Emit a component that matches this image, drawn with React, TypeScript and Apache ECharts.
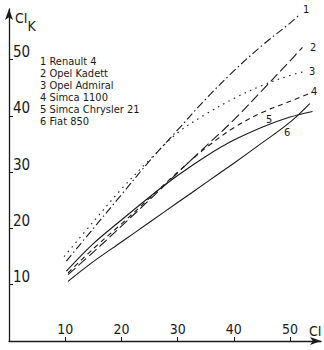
import React, { useEffect, useRef } from "react";
import * as echarts from "echarts";

const carNames = ["Renault 4", "Opel Kadett", "Opel Admiral", "Simca 1100", "Simca Chrysler 21", "Fiat 850"];
const tickValues = [10, 20, 30, 40, 50];

const x1 = [10.2, 15, 20, 25, 30, 35, 40, 45, 50, 51.8];
const y1 = [14.2, 20, 26, 32, 37.5, 43, 48, 52.5, 56.5, 58.1];
const x2 = [10.5, 15, 20, 25, 30, 35, 40, 45, 50, 52.2];
const y2 = [11.8, 15.8, 20.4, 25.1, 29.9, 34.6, 39.3, 44.5, 49.8, 52.2];
const x3 = [9.8, 15, 20, 25, 30, 35, 40, 45, 50, 52.6];
const y3 = [15, 21.2, 27, 32.2, 37, 40.3, 43.1, 45.4, 47.2, 47.9];
const x4 = [10.5, 15, 20, 25, 30, 35, 40, 45, 50, 54];
const y4 = [12.1, 16.4, 20.8, 25.4, 30, 34.3, 37.9, 40.6, 42.6, 44.2];
const x5 = [10.2, 15, 20, 25, 30, 35, 40, 45, 50, 54];
const y5 = [12.4, 17.3, 21.5, 25.6, 29.4, 32.8, 35.7, 38, 39.8, 40.8];
const x6 = [10.5, 15, 20, 25, 30, 35, 40, 45, 50, 53.5];
const y6 = [10.6, 14.1, 17.6, 21.1, 24.6, 28.1, 31.6, 35.2, 38.9, 42.2];

const seriesX = [x1, x2, x3, x4, x5, x6];
const seriesY = [y1, y2, y3, y4, y5, y6];
const dashTypes: any[] = [[8, 3, 1.5, 3], [10, 4], [1.5, 4.5], [5, 4], "solid", "solid"];

const FONT = "'DejaVu Sans Condensed', 'Liberation Sans Narrow', 'Liberation Sans', sans-serif";
const INK = "#1a1a1a";

export default function App() {
  const ref = useRef<HTMLDivElement>(null);
  useEffect(() => {
    if (!ref.current) return;
    const chart = echarts.init(ref.current, null, { renderer: "svg" });
    const series = seriesX.map((xs, i) => ({
      type: "line",
      name: carNames[i],
      data: xs.map((x, j) => [x, seriesY[i][j]]),
      smooth: 0.35,
      showSymbol: false,
      symbol: "none",
      lineStyle: { color: INK, width: 1.1, type: dashTypes[i] },
    }));
    const numLabels = [
      { t: "1", x: 303, y: 4 },
      { t: "2", x: 310, y: 42 },
      { t: "3", x: 309, y: 66 },
      { t: "4", x: 311, y: 86 },
      { t: "5", x: 266, y: 114 },
      { t: "6", x: 284, y: 127 },
    ];
    const graphics: any[] = [
      {
        type: "text",
        left: 15,
        top: 11,
        style: {
          text: "{a|CI}{b|K}",
          rich: {
            a: { fontSize: 14, fontFamily: FONT, fill: INK, verticalAlign: "top" },
            b: { fontSize: 14, fontFamily: FONT, fill: INK, padding: [8, 0, 0, 0] },
          },
        },
      },
      {
        type: "text",
        left: 309,
        top: 324,
        style: { text: "CI", fontSize: 14, fontFamily: FONT, fill: INK },
      },
      ...carNames.map((n, i) => ({
        type: "text",
        left: 40,
        top: 56 + i * 12,
        style: { text: `${i + 1} ${n}`, fontSize: 11, fontFamily: FONT, fill: INK },
      })),
      ...numLabels.map((l) => ({
        type: "text",
        left: l.x,
        top: l.y,
        style: { text: l.t, fontSize: 11, fontFamily: FONT, fill: INK },
      })),
    ];
    chart.setOption({
      animation: false,
      backgroundColor: "#ffffff",
      grid: { left: 9, right: 3, top: 9, bottom: 9, containLabel: false },
      xAxis: {
        type: "value",
        min: 0,
        max: 55.5,
        interval: 10,
        splitLine: { show: false },
        axisLine: {
          show: true,
          onZero: false,
          symbol: ["none", "arrow"],
          symbolSize: [6, 11],
          lineStyle: { color: INK, width: 1.3 },
        },
        axisTick: { show: true, inside: true, length: 4, customValues: tickValues, lineStyle: { color: INK } },
        axisLabel: {
          inside: true,
          margin: 5,
          customValues: tickValues,
          fontSize: 14,
          fontFamily: FONT,
          color: INK,
        },
      },
      yAxis: {
        type: "value",
        min: 0,
        max: 59,
        interval: 10,
        splitLine: { show: false },
        axisLine: {
          show: true,
          onZero: false,
          symbol: ["none", "arrow"],
          symbolSize: [6, 11],
          lineStyle: { color: INK, width: 1.3 },
        },
        axisTick: { show: true, inside: true, length: 4, customValues: tickValues, lineStyle: { color: INK } },
        axisLabel: {
          inside: true,
          margin: 4,
          customValues: tickValues,
          verticalAlign: "bottom",
          fontSize: 15,
          fontFamily: FONT,
          color: INK,
        },
      },
      series,
      graphic: graphics,
    });
    return () => chart.dispose();
  }, []);
  return (
    <div
      ref={ref}
      style={{ position: "fixed", left: 0, top: 0, width: 324, height: 350, background: "#fff" }}
    />
  );
}
